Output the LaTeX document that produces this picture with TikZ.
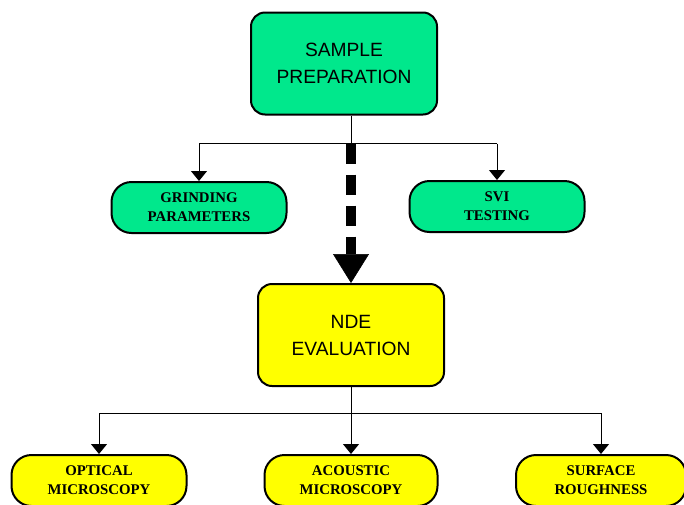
\documentclass[tikz,border=0pt]{standalone}
\usepackage{fontspec}
\setmainfont{Liberation Sans}
\newfontfamily\boxserif{Liberation Serif}
\usetikzlibrary{arrows.meta}
\definecolor{prepgreen}{RGB}{0,232,140}
\definecolor{ndeyellow}{RGB}{255,255,0}
\tikzset{
  bigbox/.style={draw, line width=2pt, rounded corners=14pt, align=center,
    minimum width=186pt, minimum height=102pt,
    font=\fontsize{19.2}{27}\selectfont},
  smallbox/.style={draw, line width=2pt, rounded corners=20pt, align=center,
    minimum height=51pt, font=\boxserif\bfseries\fontsize{14.8}{19}\selectfont},
  link/.style={line width=1pt, -{Triangle[width=16pt,length=10pt]}}
}
\begin{document}
\begin{tikzpicture}[x=1pt,y=-1pt]
  \useasboundingbox (0,0) rectangle (684,504);
  \node[bigbox, fill=prepgreen] (sample) at (344,63.5) {SAMPLE\\PREPARATION};
  \node[smallbox, fill=prepgreen, minimum width=175pt] (grind) at (199,207.5) {GRINDING\\PARAMETERS};
  \node[smallbox, fill=prepgreen, minimum width=175pt] (svi) at (497,206.5) {SVI\\TESTING};
  \node[bigbox, fill=ndeyellow] (nde) at (351,335) {NDE\\EVALUATION};
  \node[smallbox, fill=ndeyellow, minimum width=175pt] (optical) at (99,480.5) {OPTICAL\\MICROSCOPY};
  \node[smallbox, fill=ndeyellow, minimum width=173pt] (acoustic) at (351,480.5) {ACOUSTIC\\MICROSCOPY};
  \node[smallbox, fill=ndeyellow, minimum width=170pt] (surface) at (601,480.5) {SURFACE\\ROUGHNESS};
  \coordinate (split) at (351,143.5);
  \coordinate (fork) at (351,413);
  \begin{scope}[line width=1pt]
    \draw (sample.south -| split) -- (split);
    \draw (split -| grind) -- (split -| svi);
    \draw[link] (split -| grind) -- (grind);
    \draw[link] (split -| svi) -- (svi);
    \draw[line width=10pt, dash pattern=on 20pt off 11pt,
      -{Triangle[width=36pt,length=29pt,line width=0.5pt]}] (split) -- (nde);
    \draw (nde) -- (fork);
    \draw (fork -| optical) -- (fork -| surface);
    \draw[link] (fork -| optical) -- (optical);
    \draw[link] (fork) -- (acoustic);
    \draw[link] (fork -| surface) -- (surface);
  \end{scope}
\end{tikzpicture}
\end{document}
